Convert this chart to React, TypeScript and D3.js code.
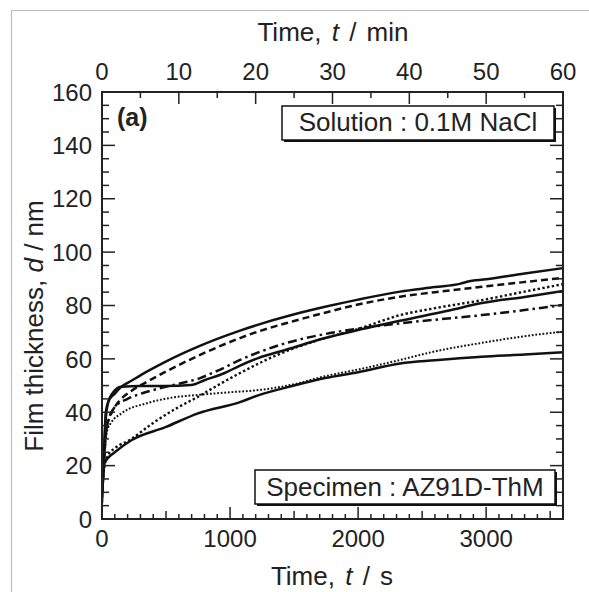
import React from "react";
import * as d3 from "d3";

const W = 589;
const H = 592;

// Each series: [time in s, thickness in nm]
const solidTop: [number, number][] = [[0,12],[15,25],[30,40],[50,44],[100,47],[150,49.5],[230,51.8],[350,55.2],[490,58.8],[750,64.6],[1078,70.6],[1495,76.6],[1742,79.5],[2000,82.2],[2328,85.2],[2600,86.9],[2800,88.2],[2850,88.9],[3000,89.8],[3300,92],[3600,94]];
const dashed: [number, number][] = [[0,10],[15,20],[30,32],[50,37],[100,42],[150,45],[229,48],[359,51.6],[490,55],[766,61.5],[1078,67.8],[1156,69.2],[1500,74.2],[1742,77.3],[1940,79.7],[2328,83.3],[2600,85],[2966,87],[3300,88.8],[3600,90.4]];
const dottedCoarse: [number, number][] = [[0,12],[20,20],[50,24],[100,26.5],[216,29.6],[400,36],[600,42],[750,45.8],[900,50],[1078,54.7],[1300,60],[1500,64],[1742,67.8],[2000,71.2],[2328,76.4],[2600,79],[2966,82],[3300,85.2],[3600,88]];
const solidMiddle: [number, number][] = [[0,8],[15,22],[30,38],[50,44],[80,47],[150,49.6],[300,49.8],[500,49.8],[695,50.2],[800,52],[958,54.7],[1078,57.5],[1219,60.3],[1443,63.5],[1742,67.8],[2000,70.8],[2350,74.5],[2700,78],[2966,80.9],[3300,83.2],[3600,85.4]];
const dashDot: [number, number][] = [[0,10],[20,28],[40,35],[60,38],[100,42],[200,45],[320,47.2],[505,49.6],[766,52.8],[900,55.5],[1078,59.6],[1443,66],[1742,69.3],[1860,70.3],[2328,73.3],[2966,76.4],[3300,78.3],[3600,80.2]];
const dottedFine: [number, number][] = [[0,10],[20,25],[40,33],[70,36],[150,39.5],[359,43.5],[550,45.5],[750,46.5],[1000,47.5],[1219,48.3],[1500,50.5],[1742,53.5],[2000,56],[2328,59.6],[2600,62.8],[2966,66],[3300,68.5],[3600,70.2]];
const solidBottom: [number, number][] = [[0,6],[8,15],[20,21],[40,22.5],[100,25],[229,29.5],[500,34.5],[750,39.6],[1078,43.8],[1219,46.3],[1500,50],[1742,52.8],[2000,55],[2328,58.3],[2600,59.5],[2966,60.8],[3300,61.6],[3600,62.5]];

const bottomTickLabels = [0, 1000, 2000, 3000];
const topTickLabels = [0, 10, 20, 30, 40, 50, 60];
const leftTickLabels = [0, 20, 40, 60, 80, 100, 120, 140, 160];

const seriesList = [
  { data: solidTop, dash: "none", width: 2.5 },
  { data: dashed, dash: "7,4", width: 2.5 },
  { data: dottedCoarse, dash: "2.4,2.4", width: 2.4 },
  { data: solidMiddle, dash: "none", width: 2.5 },
  { data: dashDot, dash: "9,4,2.5,4", width: 2.5 },
  { data: dottedFine, dash: "1.8,1.8", width: 2 },
  { data: solidBottom, dash: "none", width: 2.5 },
];

const FONT = "'Liberation Sans', Arial, Helvetica, sans-serif";

export default function App() {
  const left = 102, right = 563, top = 92, bottom = 519;
  const x = d3.scaleLinear().domain([0, 3600]).range([left, right]);
  const xm = d3.scaleLinear().domain([0, 60]).range([left, right]);
  const y = d3.scaleLinear().domain([0, 160]).range([bottom, top]);
  const line = d3
    .line<[number, number]>()
    .x((d) => x(d[0]))
    .y((d) => y(d[1]))
    .curve(d3.curveMonotoneX);

  const bottomTicks = d3.range(0, 3601, 100);
  const topTicks = d3.range(0, 61, 5);
  const yTicks = d3.range(0, 161, 5);

  return (
    <svg
      width={W}
      height={H}
      style={{ position: "absolute", left: 0, top: 0, background: "#fff" }}
      fontFamily={FONT}
    >
      <rect x={0} y={0} width={W} height={H} fill="#fff" />
      <line x1={11.5} y1={10} x2={11.5} y2={H} stroke="#bdbdbd" strokeWidth={1.2} />
      <line x1={11} y1={10.5} x2={W} y2={10.5} stroke="#bdbdbd" strokeWidth={1.2} />

      <defs>
        <clipPath id="plotClip">
          <rect x={left} y={top} width={right - left} height={bottom - top} />
        </clipPath>
      </defs>

      {/* curves */}
      <g clipPath="url(#plotClip)">
        {seriesList.map((s, i) => (
          <path
            key={i}
            d={line(s.data) || ""}
            fill="none"
            stroke="#111"
            strokeWidth={s.width}
            strokeDasharray={s.dash}
            strokeLinecap={s.dash === "none" ? "round" : "butt"}
          />
        ))}
      </g>

      {/* ticks */}
      <g stroke="#222" strokeWidth={1.5}>
        {bottomTicks.map((t) => {
          const len = t % 1000 === 0 ? 12 : t % 500 === 0 ? 8 : 5;
          return <line key={"b" + t} x1={x(t)} x2={x(t)} y1={bottom} y2={bottom - len} />;
        })}
        {topTicks.map((t) => {
          const len = t % 10 === 0 ? 12 : 6;
          return <line key={"t" + t} x1={xm(t)} x2={xm(t)} y1={top} y2={top + len} />;
        })}
        {yTicks.map((v) => {
          const len = v % 20 === 0 ? 13 : 7;
          return (
            <g key={"y" + v}>
              <line x1={left} x2={left + len} y1={y(v)} y2={y(v)} />
              <line x1={right} x2={right - len} y1={y(v)} y2={y(v)} />
            </g>
          );
        })}
      </g>

      {/* frame */}
      <rect
        x={left}
        y={top}
        width={right - left}
        height={bottom - top}
        fill="none"
        stroke="#222"
        strokeWidth={2}
      />

      {/* tick labels */}
      <g fontSize={24} fill="#222">
        {bottomTickLabels.map((t) => (
          <text key={"bl" + t} x={x(t)} y={547} textAnchor="middle">
            {t}
          </text>
        ))}
        {topTickLabels.map((t) => (
          <text key={"tl" + t} x={xm(t)} y={80} textAnchor="middle">
            {t}
          </text>
        ))}
        {leftTickLabels.map((v) => (
          <text key={"ll" + v} x={92} y={y(v)} dy="0.36em" textAnchor="end">
            {v}
          </text>
        ))}
      </g>

      {/* axis titles */}
      <text x={332} y={585} fontSize={26} fill="#222" textAnchor="middle" wordSpacing={3}>
        Time, <tspan fontStyle="italic">t</tspan> / s
      </text>
      <text x={333} y={41} fontSize={26} fill="#222" textAnchor="middle" wordSpacing={3}>
        Time, <tspan fontStyle="italic">t</tspan> / min
      </text>
      <text
        transform={`translate(43, 326) rotate(-90)`}
        fontSize={26}
        fill="#222"
        textAnchor="middle"
      >
        Film thickness, <tspan fontStyle="italic">d</tspan> / nm
      </text>

      {/* panel label */}
      <text x={117} y={126} fontSize={25} fontWeight="bold" fill="#222">
        (a)
      </text>

      {/* legend boxes */}
      <g>
        <rect x={284} y={108} width={272} height={34} fill="#111" />
        <rect x={282} y={106} width={272} height={34} fill="#fff" stroke="#111" strokeWidth={1.5} />
        <text x={418} y={131} fontSize={26} textAnchor="middle" fill="#222">
          Solution : 0.1M NaCl
        </text>
      </g>
      <g>
        <rect x={257} y={472} width={300} height={34} fill="#111" />
        <rect x={255} y={470} width={300} height={34} fill="#fff" stroke="#111" strokeWidth={1.5} />
        <text x={405} y={496} fontSize={26} textAnchor="middle" fill="#222">
          Specimen : AZ91D-ThM
        </text>
      </g>
    </svg>
  );
}
